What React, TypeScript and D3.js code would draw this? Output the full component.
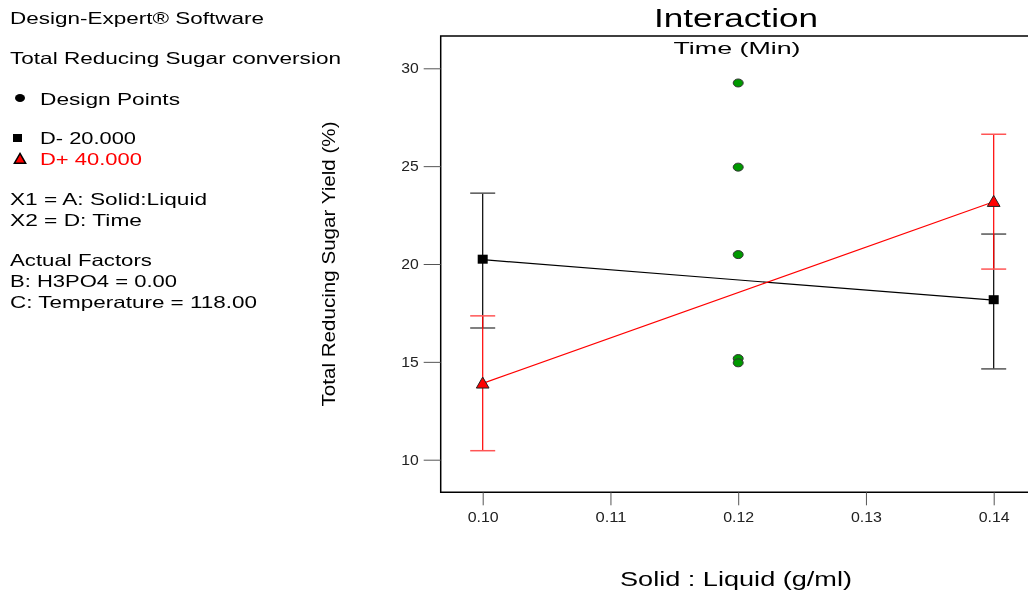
import { useEffect, useRef } from 'react'
import * as d3 from 'd3'

// factor levels and predicted means
const solidLiquid = [0.1, 0.14]
const lowTimeMean = [20.22, 18.15]
const lowTimeLower = [16.73, 14.64]
const lowTimeUpper = [23.62, 21.53]
const highTimeMean = [13.9, 23.18]
const highTimeLower = [10.46, 19.74]
const highTimeUpper = [17.35, 26.63]

// design points at the centre point
const designX = [0.12, 0.12, 0.12, 0.12, 0.12]
const designY = [29.25, 24.95, 20.48, 15.17, 14.95]

const xTicks = [0.1, 0.11, 0.12, 0.13, 0.14]
const yTicks = [10, 15, 20, 25, 30]

// left-hand info text
const infoLines = [
  { text: 'Design-Expert® Software', y: 18, len: 254, color: '#000' },
  { text: 'Total Reducing Sugar conversion', y: 58, len: 331, color: '#000' },
  { text: 'Design Points', y: 99, len: 140, color: '#000', x: 40 },
  { text: 'D- 20.000', y: 138, len: 96, color: '#000', x: 40 },
  { text: 'D+ 40.000', y: 159, len: 102, color: '#ff0000', x: 40 },
  { text: 'X1 = A: Solid:Liquid', y: 199, len: 197, color: '#000' },
  { text: 'X2 = D: Time', y: 220, len: 132, color: '#000' },
  { text: 'Actual Factors', y: 260, len: 142, color: '#000' },
  { text: 'B: H3PO4 = 0.00', y: 281, len: 167, color: '#000' },
  { text: 'C: Temperature = 118.00', y: 302, len: 247, color: '#000' },
]

const FONT = "Arial, 'Liberation Sans', sans-serif"

const InteractionChart = ({ width = 1028, height = 591 }) => {
  const svgRef = useRef(null)

  useEffect(() => {
    const svgEl = d3.select(svgRef.current)
    svgEl.selectAll('*').remove()

    const frameLeft = 440.7
    const frameTop = 36
    const frameBottom = 492.3

    const xScale = d3.scaleLinear([0.1, 0.14], [482.7, 993.7])
    const yScale = d3.scaleLinear([10, 30], [459.7, 68.3])

    // info block
    const info = svgEl.append('g').style('font-family', FONT).style('font-size', '16.5px')
    infoLines.forEach((l) => {
      info
        .append('text')
        .attr('x', l.x ?? 10)
        .attr('y', l.y + 6)
        .attr('fill', l.color)
        .attr('textLength', l.len)
        .attr('lengthAdjust', 'spacingAndGlyphs')
        .text(l.text)
    })
    // legend symbols
    info.append('ellipse').attr('cx', 20).attr('cy', 98).attr('rx', 5).attr('ry', 4).attr('fill', '#000')
    info.append('rect').attr('x', 13).attr('y', 134).attr('width', 9).attr('height', 8).attr('fill', '#000')
    info
      .append('path')
      .attr('d', d3.symbol(d3.symbolTriangle, 55)())
      .attr('transform', 'translate(20,160)')
      .attr('fill', '#ff0000')
      .attr('stroke', '#000')
      .attr('stroke-width', 1.5)

    // frame
    svgEl
      .append('path')
      .attr('d', `M${width + 5},${frameTop}H${frameLeft}V${frameBottom}H${width + 5}`)
      .attr('fill', 'none')
      .attr('stroke', '#000')
      .attr('stroke-width', 1.5)

    // y axis
    const yAxis = d3.axisLeft(yScale).tickValues(yTicks).tickFormat(d3.format('d')).tickSize(17).tickPadding(5)
    svgEl
      .append('g')
      .attr('transform', `translate(${frameLeft},0)`)
      .call(yAxis)
      .call((g) => g.select('.domain').remove())
      .call((g) => g.selectAll('.tick line').attr('stroke', '#555'))
      .call((g) =>
        g
          .selectAll('.tick text')
          .attr('fill', '#222')
          .attr('textLength', 17.5)
          .attr('lengthAdjust', 'spacingAndGlyphs')
          .style('font-family', FONT)
          .style('font-size', '14px')
      )

    // x axis
    const xAxis = d3.axisBottom(xScale).tickValues(xTicks).tickFormat(d3.format('.2f')).tickSize(13).tickPadding(7)
    svgEl
      .append('g')
      .attr('transform', `translate(0,${frameBottom})`)
      .call(xAxis)
      .call((g) => g.select('.domain').remove())
      .call((g) => g.selectAll('.tick line').attr('stroke', '#555'))
      .call((g) =>
        g
          .selectAll('.tick text')
          .attr('fill', '#222')
          .attr('textLength', 31)
          .attr('lengthAdjust', 'spacingAndGlyphs')
          .style('font-family', FONT)
          .style('font-size', '14px')
      )

    // titles
    svgEl
      .append('text')
      .attr('x', 736)
      .attr('y', 27)
      .attr('text-anchor', 'middle')
      .attr('textLength', 164)
      .attr('lengthAdjust', 'spacingAndGlyphs')
      .style('font-family', FONT)
      .style('font-size', '26px')
      .text('Interaction')
    svgEl
      .append('text')
      .attr('x', 737)
      .attr('y', 54)
      .attr('text-anchor', 'middle')
      .attr('textLength', 127)
      .attr('lengthAdjust', 'spacingAndGlyphs')
      .style('font-family', FONT)
      .style('font-size', '17px')
      .text('Time (Min)')
    svgEl
      .append('text')
      .attr('x', 736)
      .attr('y', 586)
      .attr('text-anchor', 'middle')
      .attr('textLength', 232)
      .attr('lengthAdjust', 'spacingAndGlyphs')
      .style('font-family', FONT)
      .style('font-size', '21px')
      .text('Solid : Liquid (g/ml)')
    svgEl
      .append('text')
      .attr('transform', 'translate(335,264) rotate(-90)')
      .attr('text-anchor', 'middle')
      .attr('textLength', 285)
      .attr('lengthAdjust', 'spacingAndGlyphs')
      .style('font-family', FONT)
      .style('font-size', '18px')
      .text('Total Reducing Sugar Yield (%)')

    const line = d3
      .line()
      .x((d) => xScale(d[0]))
      .y((d) => yScale(d[1]))

    const series = [
      { mean: lowTimeMean, lower: lowTimeLower, upper: lowTimeUpper, color: '#000', cap: '#555' },
      { mean: highTimeMean, lower: highTimeLower, upper: highTimeUpper, color: '#ff0000', cap: '#ff5555' },
    ]

    // error bars
    series.forEach((s) => {
      const g = svgEl.append('g')
      solidLiquid.forEach((x, i) => {
        const cx = xScale(x)
        g.append('line')
          .attr('x1', cx)
          .attr('x2', cx)
          .attr('y1', yScale(s.lower[i]))
          .attr('y2', yScale(s.upper[i]))
          .attr('stroke', s.color)
          .attr('stroke-width', 1.2)
        ;[s.lower[i], s.upper[i]].forEach((v) => {
          g.append('line')
            .attr('x1', cx - 12.5)
            .attr('x2', cx + 12.5)
            .attr('y1', yScale(v))
            .attr('y2', yScale(v))
            .attr('stroke', s.cap)
            .attr('stroke-width', 1.5)
        })
      })
    })

    // interaction lines
    series.forEach((s) => {
      svgEl
        .append('path')
        .attr('d', line(solidLiquid.map((x, i) => [x, s.mean[i]])))
        .attr('fill', 'none')
        .attr('stroke', s.color)
        .attr('stroke-width', 1.2)
    })

    // means markers
    svgEl
      .append('g')
      .selectAll('rect')
      .data(solidLiquid)
      .join('rect')
      .attr('x', (d) => xScale(d) - 5)
      .attr('y', (d, i) => yScale(lowTimeMean[i]) - 5)
      .attr('width', 10)
      .attr('height', 9)
      .attr('fill', '#000')
    svgEl
      .append('g')
      .selectAll('path')
      .data(solidLiquid)
      .join('path')
      .attr('d', d3.symbol(d3.symbolTriangle, 70)())
      .attr('transform', (d, i) => `translate(${xScale(d)},${yScale(highTimeMean[i]) + 1})`)
      .attr('fill', '#ff0000')
      .attr('stroke', '#222')
      .attr('stroke-width', 1)

    // design points
    svgEl
      .append('g')
      .selectAll('ellipse')
      .data(designX)
      .join('ellipse')
      .attr('cx', (d) => xScale(d))
      .attr('cy', (d, i) => yScale(designY[i]))
      .attr('rx', 5)
      .attr('ry', 4)
      .attr('fill', '#009900')
      .attr('stroke', '#333')
      .attr('stroke-width', 1)
  }, [width, height])

  return <svg ref={svgRef} width={width} height={height} style={{ display: 'block' }} />
}

export default function App() {
  return (
    <div style={{ position: 'fixed', left: 0, top: 0, width: 1028, height: 591, overflow: 'hidden' }}>
      <InteractionChart width={1028} height={591} />
    </div>
  )
}
